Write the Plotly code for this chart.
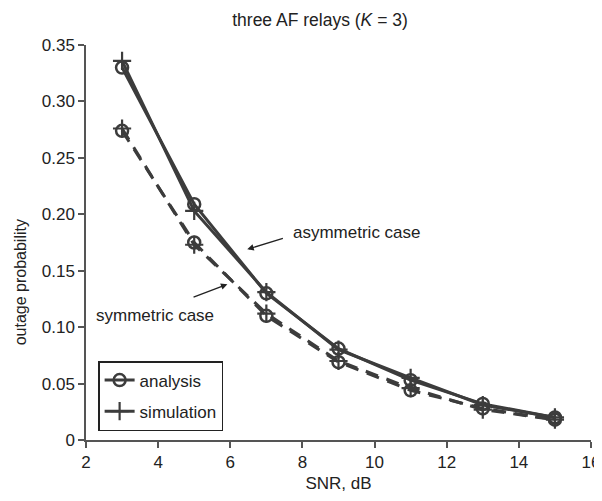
import plotly.graph_objects as go

snr = [3, 5, 7, 9, 11, 13, 15]
asym_analysis = [0.330, 0.209, 0.130, 0.081, 0.053, 0.032, 0.020]
asym_simulation = [0.336, 0.203, 0.131, 0.080, 0.055, 0.031, 0.020]
sym_analysis = [0.274, 0.175, 0.110, 0.069, 0.044, 0.028, 0.018]
sym_simulation = [0.276, 0.173, 0.112, 0.070, 0.046, 0.027, 0.018]

x_ticks = [2, 4, 6, 8, 10, 12, 14, 16]
y_ticks = [0, 0.05, 0.10, 0.15, 0.20, 0.25, 0.30, 0.35]
y_tick_labels = ["0", "0.05", "0.10", "0.15", "0.20", "0.25", "0.30", "0.35"]

C = "#3c3c3c"
FONT = "Liberation Sans, Arial, sans-serif"
circle = dict(symbol="circle-open", size=12, color=C, line=dict(width=2.5, color=C))
plus = dict(symbol="cross-thin-open", size=13, color=C, line=dict(width=2.2, color=C))

fig = go.Figure()

fig.add_trace(go.Scatter(x=snr, y=asym_analysis, mode="lines+markers", name="analysis",
                         legendgroup="a", line=dict(color=C, width=3), marker=circle))
fig.add_trace(go.Scatter(x=snr, y=asym_simulation, mode="lines+markers", name="simulation",
                         legendgroup="b", line=dict(color=C, width=3), marker=plus))
fig.add_trace(go.Scatter(x=snr, y=sym_analysis, mode="lines+markers", showlegend=False,
                         legendgroup="a", line=dict(color=C, width=3, dash="13px,9px"), marker=circle))
fig.add_trace(go.Scatter(x=snr, y=sym_simulation, mode="lines+markers", showlegend=False,
                         legendgroup="b", line=dict(color=C, width=3, dash="13px,9px"), marker=plus))

# page body has an 8px default margin, so the figure is sized to fill the rest of the window
fig.update_layout(
    width=594, height=493,
    margin=dict(l=78, r=11, t=37, b=61, autoexpand=False),
    paper_bgcolor="white", plot_bgcolor="white",
    font=dict(family=FONT, size=17, color="#222"),
    title=dict(text="three AF relays (<i>K</i> = 3)", x=312 / 594, xref="container", xanchor="center",
               y=1 - 12 / 493, yref="container", yanchor="middle", font=dict(size=17.5, color="#222")),
    showlegend=True,
    legend=dict(x=0.024, y=0.2, xanchor="left", yanchor="top", bordercolor="#222", borderwidth=1.5,
                bgcolor="white", font=dict(size=17), tracegroupgap=6, itemwidth=30,
                entrywidth=110, entrywidthmode="pixels"),
    xaxis=dict(range=[2, 16], tickvals=x_ticks, showgrid=False, zeroline=False, automargin=False,
               showline=True, linecolor="#555", linewidth=1.5, ticks="outside", ticklen=6,
               tickcolor="#555", tickwidth=1.5, tickfont=dict(size=17),
               title=dict(text="SNR, dB", font=dict(size=17), standoff=6)),
    yaxis=dict(range=[0, 0.35], tickvals=y_ticks, ticktext=y_tick_labels, showgrid=False, zeroline=False,
               automargin=False,
               showline=True, linecolor="#555", linewidth=1.5, ticks="outside", ticklen=6,
               tickcolor="#555", tickwidth=1.5, tickfont=dict(size=17)),
    annotations=[
        dict(text="outage probability", xref="paper", yref="paper", x=-0.13, y=0.40,
             xanchor="center", yanchor="middle",
             textangle=-90, showarrow=False, font=dict(size=16)),
        dict(text="asymmetric case", x=9.5, y=0.184, xref="x", yref="y", showarrow=False,
             font=dict(size=17)),
        dict(text="", x=6.47, y=0.169, ax=7.5, ay=0.179, xref="x", yref="y", axref="x", ayref="y",
             showarrow=True, arrowhead=2, arrowsize=1, arrowwidth=1.3, arrowcolor="#222"),
        dict(text="symmetric case", x=3.92, y=0.110, xref="x", yref="y", showarrow=False,
             font=dict(size=17)),
        dict(text="", x=5.92, y=0.138, ax=4.94, ay=0.126, xref="x", yref="y", axref="x", ayref="y",
             showarrow=True, arrowhead=2, arrowsize=1, arrowwidth=1.3, arrowcolor="#222"),
    ],
)

fig.write_html("out.html")
